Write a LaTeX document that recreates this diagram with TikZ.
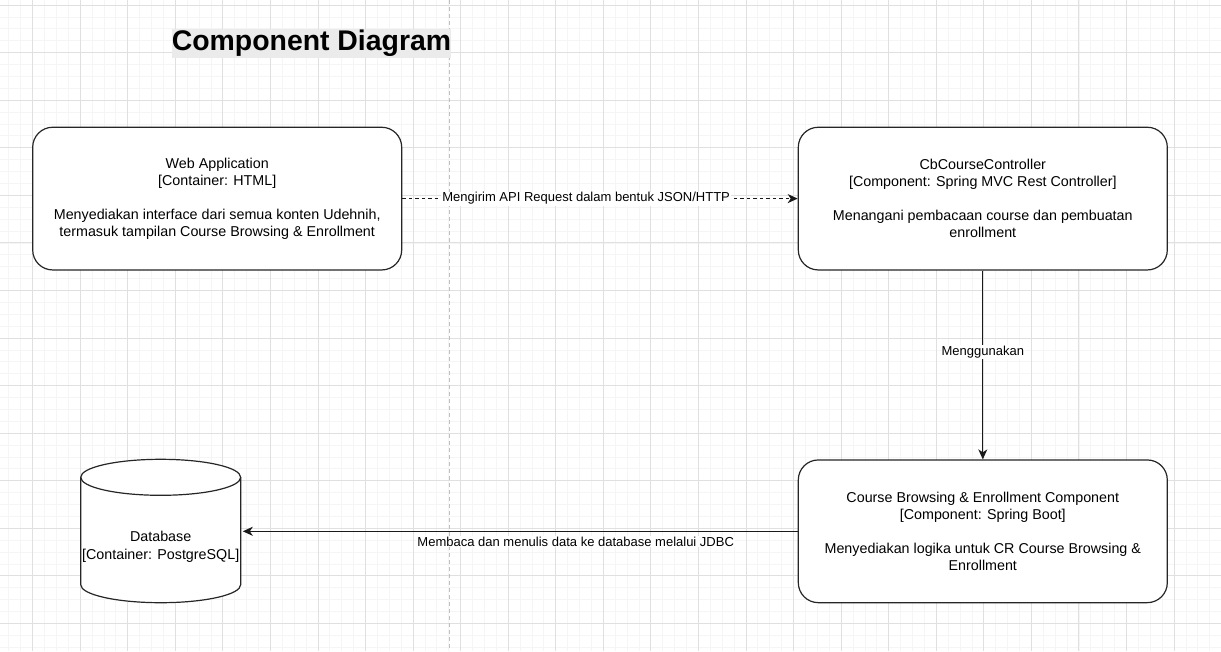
\documentclass[tikz,border=0pt]{standalone}
\usepackage{fontspec}
\setmainfont{Liberation Sans}
\usepackage{tikz}
\usetikzlibrary{arrows.meta}
\tikzset{>={Stealth[length=10pt,width=9pt,inset=3pt]}}
\tikzset{
    box/.style={draw=black!85, line width=1.2pt, rounded corners=20pt, fill=white,
        minimum width=369pt, minimum height=142.7pt, align=center,
        font=\fontsize{14.3}{17}\selectfont},
    lbl/.style={fill=white, inner sep=1pt, font=\fontsize{13}{15.6}\selectfont},
    edge/.style={draw=black!90, line width=1.2pt},
    gridminor/.style={black!4, line width=0.6pt},
    gridmajor/.style={black!12, line width=0.7pt},
}

\begin{document}
\begin{tikzpicture}[x=1pt, y=-1pt]
    \useasboundingbox (0,0) rectangle (1221,651);
    \fill[white] (0,0) rectangle (1221,651);
    % grid
    \foreach \i in {0,...,102}
        \draw[gridminor] ({8.72+11.89*\i},0) -- ({8.72+11.89*\i},651);
    \foreach \j in {0,...,54}
        \draw[gridminor] (0,{5+11.89*\j}) -- (1221,{5+11.89*\j});
    \foreach \i in {0,...,25}
        \draw[gridmajor] ({32.5+47.56*\i},0) -- ({32.5+47.56*\i},651);
    \foreach \j in {0,...,13}
        \draw[gridmajor] (0,{5+47.56*\j}) -- (1221,{5+47.56*\j});
    \draw[black!25, line width=1pt, dash pattern=on 4pt off 3pt] (449,0) -- (449,651);

    \node[fill=black!8, inner xsep=0pt, inner ysep=1pt,
        font=\fontsize{28.4}{30}\selectfont\bfseries] (title) at (311.5,43.5) {Component Diagram};

    \node[box] (webapp) at (217.2,198.6) {Web Application\\{[Container: HTML]}\\[17pt]Menyediakan interface dari semua konten Udehnih,\\termasuk tampilan Course Browsing \& Enrollment};
    \node[box] (ctrl) at (982.8,198.6) {CbCourseController\\{[Component: Spring MVC Rest Controller]}\\[17pt]Menangani pembacaan course dan pembuatan\\enrollment};
    \node[box] (cbe) at (982.8,531.3) {Course Browsing \& Enrollment Component\\{[Component: Spring Boot]}\\[17pt]Menyediakan logika untuk CR Course Browsing \&\\Enrollment};

    % cylinder
    \filldraw[draw=black!85, fill=white, line width=1.2pt] (80.7,477.3) -- (80.7,584.7)
        arc[start angle=180, end angle=360, x radius=80pt, y radius=18pt] -- (240.7,477.3)
        arc[start angle=0, end angle=180, x radius=80pt, y radius=18pt] -- cycle;
    \draw[draw=black!85, line width=1.2pt] (80.7,477.3) arc[start angle=180, end angle=360, x radius=80pt, y radius=18pt];
    \node[minimum width=160pt, align=center, font=\fontsize{14.3}{18}\selectfont] (db) at (160.7,547) {Database\\{[Container: PostgreSQL]}};

    \draw[edge, ->, dash pattern=on 3.5pt off 3pt] (webapp) -- (ctrl)
        node[lbl, pos=0.465] {Mengirim API Request dalam bentuk JSON/HTTP};
    \draw[edge, ->] (ctrl) -- (cbe) node[lbl, pos=0.43] {Menggunakan};
    \draw[edge, ->] (cbe.west) -- (cbe.west -| db.east)
        node[lbl, pos=0.4, below=4pt] {Membaca dan menulis data ke database melalui JDBC};
\end{tikzpicture}
\end{document}
